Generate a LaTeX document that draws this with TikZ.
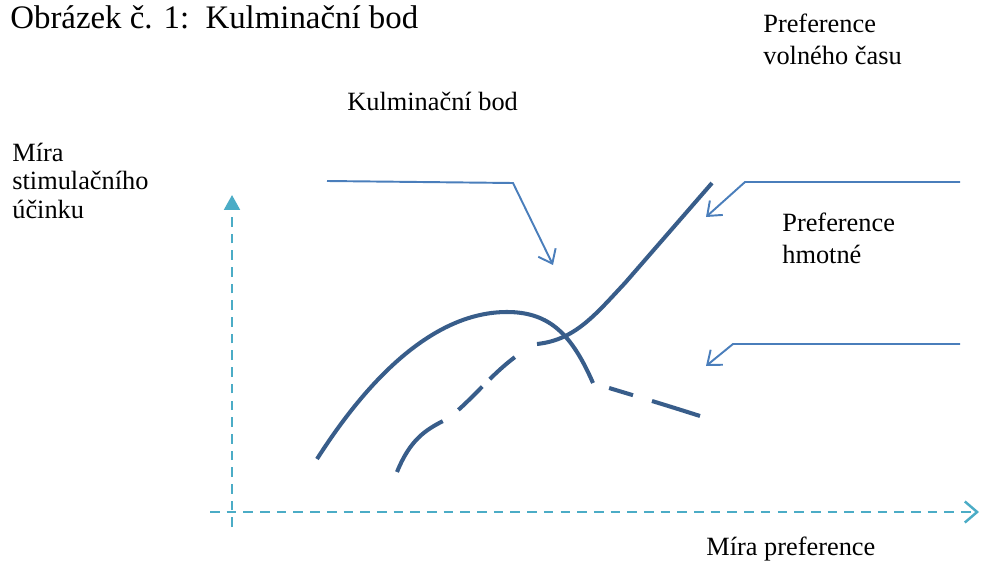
\documentclass[tikz,border=0pt]{standalone}
\usepackage{fontspec}
\setmainfont{Liberation Serif}
\usetikzlibrary{arrows.meta}
\definecolor{curveblue}{RGB}{56,93,138}
\definecolor{calloutblue}{RGB}{74,126,187}
\definecolor{axisblue}{RGB}{75,172,198}
\tikzset{
  txt/.style={anchor=base west, inner sep=0pt, align=left, font=\fontsize{15}{17.8}\selectfont},
  axisline/.style={axisblue, line width=1.4pt, dash pattern=on 5.5pt off 4pt},
  calloutline/.style={calloutblue, line width=1.1pt, -{Straight Barb[length=7pt,width=11pt]}},
  curveline/.style={curveblue, line width=2.3pt}
}
\begin{document}
\begin{tikzpicture}[x=0.02cm, y=-0.02cm]
\useasboundingbox (0,0) rectangle (981,561);
\node[txt, font=\fontsize{18.7}{22}\selectfont] (title) at (10,29) {Obrázek č. 1:\ \ Kulminační bod};
\node[txt] (kb) at (347,110) {Kulminační bod};
\node[txt] (pv) at (763,64) {Preference\\volného času};
\node[txt] (ph) at (782,263) {Preference\\hmotné};
\node[txt, font=\fontsize{15}{16}\selectfont] (my) at (12,218) {Míra\\stimulačního\\účinku};
\node[txt] (mx) at (706,555) {Míra preference};

\coordinate (y0) at (232,527);
\coordinate (y1) at (232,195);
\coordinate (x0) at (210,512);
\coordinate (x1) at (979,512);
\draw[axisline, -{Triangle[length=8.5pt,width=9pt]}] (y0) -- (y1);
\draw[axisline, -{Straight Barb[length=7pt,width=12pt]}] (x0) -- (x1);

\coordinate (k1) at (327,181);
\coordinate (k2) at (513,183);
\coordinate (k3) at (553,265);
\coordinate (v1) at (960,182);
\coordinate (v2) at (745,182);
\coordinate (v3) at (706,217);
\coordinate (h1) at (960,344);
\coordinate (h2) at (733,344);
\coordinate (h3) at (706,366);
\draw[calloutline] (k1) -- (k2) -- (k3);
\draw[calloutline] (v1) -- (v2) -- (v3);
\draw[calloutline] (h1) -- (h2) -- (h3);

\coordinate (a0) at (317,459);
\coordinate (a1) at (507,312);
\coordinate (a2) at (593,383);
\coordinate (a3) at (700,416);
\draw[curveline] (a0) .. controls (375,368) and (440,312) .. (a1) .. controls (550,312) and (572,335) .. (a2);
\draw[curveline, dash pattern=on 0pt off 9.6pt on 14.2pt off 11.3pt on 28.9pt off 20pt] (a2) .. controls (615,390) and (650,400) .. (a3);

\coordinate (b0) at (397,472);
\coordinate (bm) at (445,420);
\coordinate (b1) at (537,344);
\coordinate (b2) at (625,283);
\coordinate (b3) at (712,183);
\draw[curveline, dash pattern=on 40pt off 11pt on 19pt off 6pt on 19pt off 20pt] (b0) .. controls (410,440) and (425,430) .. (bm) .. controls (470,405) and (500,360) .. (b1);
\draw[curveline] (b1) .. controls (575,340) and (595,315) .. (b2) -- (b3);
\end{tikzpicture}
\end{document}
